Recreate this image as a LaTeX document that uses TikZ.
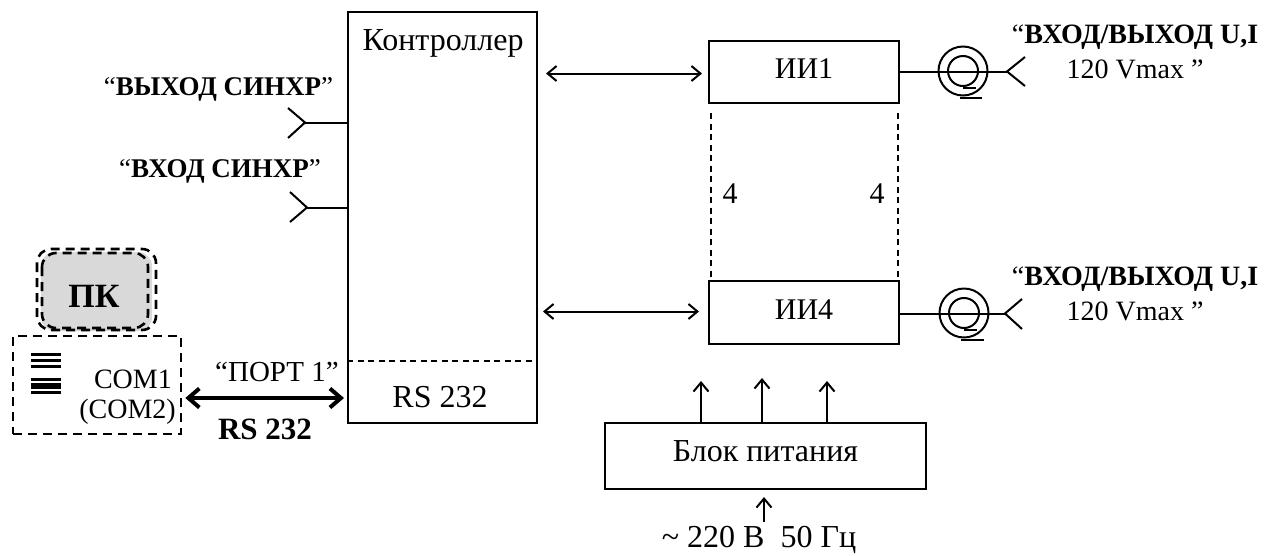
\documentclass[tikz,border=0pt]{standalone}
\usepackage{fontspec}
\setmainfont{Liberation Serif}
\usetikzlibrary{arrows.meta}
\tikzset{
    block/.style={draw, line width=2pt, inner sep=0pt, font=\fontsize{30}{30}\selectfont},
    wire/.style={line width=2pt},
    dots/.style={line width=2pt, dash pattern=on 6pt off 4.5pt},
    txt/.style={inner sep=0pt, anchor=base, font=\fontsize{32}{32}\selectfont},
    midtxt/.style={inner sep=0pt, anchor=base, font=\fontsize{28}{28}\selectfont},
    dashline/.style={line width=2.6pt, dash pattern=on 9pt off 6pt}
}
\begin{document}
\begin{tikzpicture}[x=1pt,y=-1pt,>={Straight Barb[length=9pt,width=15pt]}]
    \useasboundingbox (0,0) rectangle (1275,555);

    \node[block, minimum width=189pt, minimum height=411pt] (contr) at (442.5,217.5) {};
    \node[txt] (contrlabel) at (443,50) {Контроллер};
    \node[txt] (rslabel) at (440,407) {RS 232};
    \draw[dots] (contr.west |- 0,360.5) -- (contr.east |- 0,360.5);

    \node[block, text depth=6pt, minimum width=190pt, minimum height=62pt] (ii1) at (804,72) {ИИ1};
    \node[block, text depth=6pt, minimum width=190pt, minimum height=63pt] (ii4) at (804,312.5) {ИИ4};
    \draw[dots] ([xshift=2.5pt,yshift=-9pt]ii1.south west) -- ([xshift=2.5pt]ii4.north west);
    \draw[dots] ([xshift=-2.5pt,yshift=-9pt]ii1.south east) -- ([xshift=-2.5pt]ii4.north east);
    \node[midtxt, font=\fontsize{30}{30}\selectfont] (four1) at (730,203) {4};
    \node[midtxt, font=\fontsize{30}{30}\selectfont] (four2) at (877,203) {4};

    \draw[wire, <->, shorten <=8pt, shorten >=6pt] ([yshift=-1.5pt]ii1.west -| contr.east) -- ([yshift=-1.5pt]ii1.west);
    \draw[wire, <->, shorten <=5pt, shorten >=9pt] ([yshift=1pt]ii4.west -| contr.east) -- ([yshift=1pt]ii4.west);

    \node[block, text depth=9pt, font=\fontsize{32}{32}\selectfont, minimum width=321pt, minimum height=66pt] (power) at (765.5,456) {Блок питания};
    \draw[wire, ->] ([xshift=-64.5pt]power.north) -- ++(0,-41);
    \draw[wire, ->] ([xshift=-3.5pt]power.north) -- ++(0,-44);
    \draw[wire, ->] ([xshift=61.5pt]power.north) -- ++(0,-41);
    \coordinate (mains) at (764,522);
    \draw[wire, ->, shorten >=7pt] (mains) -- (mains |- power.south);
    \node[txt] (mainslabel) at (759,547) {\textasciitilde\ 220 В\ \ 50 Гц};

    % sync connectors
    \coordinate (syncout) at (305,122.5);
    \coordinate (syncin) at (307,207.5);
    \draw[wire] (syncout) -- (syncout -| contr.west);
    \draw[wire] (syncin) -- (syncin -| contr.west);
    \draw[wire] (288,108) -- (syncout) -- (288,138);
    \draw[wire] (290,192) -- (syncin) -- (290,222);
    \node[inner sep=0pt, anchor=base, font=\fontsize{27}{27}\selectfont] (syncoutlabel) at (218.5,95) {“\textbf{ВЫХОД СИНХР}”};
    \node[inner sep=0pt, anchor=base, font=\fontsize{27}{27}\selectfont] (syncinlabel) at (220,177) {“\textbf{ВХОД СИНХР}”};

    % first output
    \coordinate (out1) at (1007,71.5);
    \draw[wire] (ii1.east |- out1) -- (out1);
    \draw[wire] (1025,57) -- (out1) -- (1025,86);
    \draw[wire] (963,71) circle (24.5);
    \draw[wire] (963,71) circle (15);
    \draw[wire] (963,87.5) -- (976,87.5);
    \draw[wire] (960,97.5) -- (982,97.5);
    \node[midtxt] (out1top) at (1135,43) {“\textbf{ВХОД/ВЫХОД U,I}};
    \node[midtxt] (out1bot) at (1135,78) {120 Vmax ”};

    % second output
    \coordinate (out4) at (1005,313.5);
    \draw[wire] (ii4.east |- out4) -- (out4);
    \draw[wire] (1022,299) -- (out4) -- (1022,329);
    \draw[wire] (964,313) circle (24.5);
    \draw[wire] (964,313) circle (15);
    \draw[wire] (964,329.5) -- (977,329.5);
    \draw[wire] (961,339.5) -- (984,339.5);
    \node[midtxt] (out4top) at (1135,285) {“\textbf{ВХОД/ВЫХОД U,I}};
    \node[midtxt] (out4bot) at (1135,320) {120 Vmax ”};

    % computer
    \fill[gray!30, rounded corners=14pt] (41,252) rectangle (152,331);
    \draw[dashline, rounded corners=14pt] (37,249) rectangle (156,330);
    \draw[dashline, rounded corners=14pt] (42,253) rectangle (148,328);
    \node[inner sep=0pt, anchor=base, font=\bfseries\fontsize{34}{34}\selectfont] (pc) at (94,307) {ПК};
    \node[draw, dashline, inner sep=0pt, minimum width=168pt, minimum height=98pt] (combox) at (97,385) {};
    \fill[black] (31,353) rectangle (61,356);
    \fill[black] (31,359) rectangle (61,362);
    \fill[black] (31,365) rectangle (61,368);
    \fill[black] (31,378) rectangle (61,381);
    \fill[black] (31,383) rectangle (61,389);
    \fill[black] (31,391) rectangle (61,394);
    \node[inner sep=0pt, anchor=base east, font=\fontsize{28}{28}\selectfont] (com1) at (172,388) {COM1};
    \node[inner sep=0pt, anchor=base east, font=\fontsize{28}{28}\selectfont] (com2) at (176,418) {(COM2)};

    \draw[line width=4pt, {Straight Barb[length=11pt,width=19pt]}-{Straight Barb[length=11pt,width=19pt]}, shorten <=3pt, shorten >=3pt] (combox.east |- 0,398) -- (contr.west |- 0,398);
    \node[midtxt, font=\fontsize{29}{29}\selectfont] (portlabel) at (277,381) {“ПОРТ 1”};
    \node[inner sep=0pt, anchor=base, font=\bfseries\fontsize{31}{31}\selectfont] (rsbold) at (265,439) {RS 232};
\end{tikzpicture}
\end{document}
